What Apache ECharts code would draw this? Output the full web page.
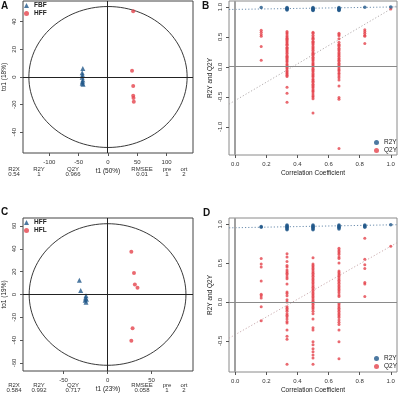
<!DOCTYPE html>
<html>
<head>
<meta charset="utf-8">
<script src="https://cdn.jsdelivr.net/npm/echarts@6/dist/echarts.min.js"></script>
<style>
  html, body { margin: 0; padding: 0; background: #fff; }
  #chart { width: 400px; height: 395px; }
</style>
</head>
<body>
<div id="chart"></div>
<script>
// ---- panel A: OPLS-DA scores FBF vs HFF
const fbfA = [[-43, 6.2], [-44, 3.1], [-43.5, 1.4], [-44, -0.2], [-43, -2.2], [-43.5, -3.4], [-44, -4.6], [-42.5, -5.3]];
const hffA = [[43, 47.5], [41, 4.6], [43, -6.5], [43, -13.5], [43.5, -15.2], [44, -18]];
const ellipseA = [135, 51];
const ticksAx = [-100, -50, 0, 50, 100];
const ticksAy = [-40, -20, 0, 20, 40];
const tableHead = ['R2X', 'R2Y', 'Q2Y', 'RMSEE', 'pre', 'ort'];
const tableA = ['0.54', '1', '0.966', '0.01', '1', '2'];

// ---- panel C: scores HFF vs HFL
const hffC = [[-32, 12.4], [-30.5, 3.5], [-24.5, -1], [-25, -3], [-24, -4.2], [-25.5, -5], [-24.5, -6.7]];
const hflC = [[27, 37.4], [30, 18.8], [31, 8.7], [34, 6], [28.4, -29.6], [27, -40.6]];
const ellipseC = [89, 62];
const ticksCx = [-50, 0, 50];
const ticksCy = [-60, -40, -20, 0, 20, 40, 60];
const tableC = ['0.584', '0.992', '0.717', '0.058', '1', '2'];

// ---- permutation tests (B, D)
const permX = [0.167, 0.333, 0.5, 0.667, 0.833, 1.0];
const ticksPx = [0, 0.2, 0.4, 0.6, 0.8, 1.0];
const ticksBy = [-1, -0.5, 0, 0.5, 1];
const ticksDy = [-0.5, 0, 0.5, 1];

const r2yB = [
  [0.99],
  [0.99, 0.98, 0.97, 0.96, 0.95],
  [0.99, 0.98, 0.97, 0.96, 0.95, 0.94],
  [0.99, 0.98, 0.97, 0.96, 0.95, 0.94],
  [0.995],
  [1.0]
];
const q2yB = [
  [0.61, 0.58, 0.54, 0.51, 0.34, 0.11],
  [0.59, 0.57, 0.55, 0.52, 0.50, 0.48, 0.46, 0.44, 0.42, 0.40, 0.38, 0.36, 0.33, 0.31, 0.29, 0.27, 0.25, 0.23, 0.20, 0.18, 0.16, 0.14, 0.12, 0.10, 0.08, 0.05, 0.03, 0.01, -0.01, -0.03, -0.06, -0.08, -0.10, -0.12, -0.14, -0.16, -0.34, -0.44, -0.59],
  [0.58, 0.56, 0.53, 0.50, 0.48, 0.46, 0.43, 0.41, 0.39, 0.37, 0.34, 0.32, 0.30, 0.28, 0.25, 0.23, 0.21, 0.19, 0.16, 0.14, 0.12, 0.10, 0.07, 0.05, 0.03, 0.01, -0.02, -0.04, -0.06, -0.08, -0.11, -0.13, -0.15, -0.17, -0.20, -0.22, -0.24, -0.26, -0.29, -0.31, -0.33, -0.35, -0.38, -0.40, -0.42, -0.45, -0.48, -0.50, -0.53, -0.77],
  [0.56, 0.54, 0.52, 0.47, 0.41, 0.38, 0.36, 0.34, 0.31, 0.29, 0.27, 0.24, 0.22, 0.20, 0.18, 0.15, 0.13, 0.11, 0.09, 0.06, 0.04, 0.02, 0.00, -0.03, -0.05, -0.07, -0.10, -0.12, -0.15, -0.18, -0.22, -0.32, -0.51, -0.54, -1.36],
  [0.62, 0.59, 0.56, 0.53, 0.51, 0.39],
  [0.966]
];
const fitB = { r2y: [0.96, 1.0], q2y: [-0.56, 0.966] }; // value at x=0 and x=1

const r2yD = [
  [0.97, 0.96],
  [0.99, 0.98, 0.97, 0.96, 0.95, 0.94, 0.93],
  [0.99, 0.98, 0.97, 0.96, 0.95, 0.94, 0.93],
  [0.99, 0.98, 0.97, 0.96, 0.95, 0.94],
  [0.99, 0.98, 0.97, 0.96],
  [0.992]
];
const q2yD = [
  [0.56, 0.49, 0.45, 0.27, 0.10, 0.08, 0.05, -0.06, -0.24],
  [0.62, 0.58, 0.52, 0.47, 0.45, 0.41, 0.39, 0.37, 0.35, 0.32, 0.30, 0.23, 0.13, 0.11, 0.08, 0.03, 0.0, -0.06, -0.08, -0.10, -0.12, -0.15, -0.17, -0.19, -0.22, -0.25, -0.27, -0.36, -0.44, -0.48, -0.80],
  [0.57, 0.49, 0.47, 0.45, 0.43, 0.41, 0.39, 0.37, 0.35, 0.33, 0.31, 0.29, 0.27, 0.25, 0.23, 0.21, 0.19, 0.17, 0.15, 0.13, 0.11, 0.09, 0.07, 0.05, 0.03, 0.01, -0.01, -0.03, -0.05, -0.07, -0.09, -0.12, -0.15, -0.22, -0.33, -0.36, -0.51, -0.55, -0.60, -0.64, -0.68, -0.72, -0.80],
  [0.69, 0.67, 0.65, 0.63, 0.61, 0.58, 0.56, 0.50, 0.40, 0.38, 0.36, 0.34, 0.32, 0.30, 0.28, 0.26, 0.24, 0.22, 0.20, 0.18, 0.16, 0.14, 0.12, 0.09, 0.07, -0.02, -0.04, -0.06, -0.08, -0.10, -0.12, -0.14, -0.16, -0.18, -0.20, -0.23, -0.26, -0.29, -0.36, -0.51, -0.73],
  [0.82, 0.55, 0.48, 0.43, 0.25, 0.23, 0.07],
  [0.717]
];
const fitD = { r2y: [0.955, 0.992], q2y: [-0.42, 0.717] };

const BLUE = '#20578a';
const RED = '#e5434c';
const FONT = 'Liberation Sans';

const grids = [
  { left: 23, top: 1, width: 170, height: 152 },   // A
  { left: 229, top: 1, width: 168, height: 154 },  // B
  { left: 23, top: 218, width: 170, height: 153 }, // C
  { left: 229, top: 218, width: 168, height: 154 } // D
].map((g, i) => Object.assign(g, {
  show: true, borderColor: i % 2 ? '#8a8a8a' : '#444', borderWidth: 1,
  backgroundColor: 'transparent', outerBoundsMode: 'none'
}));

const ranges = [
  { x: [-145, 145], y: [-55, 55] },
  { x: [-0.04, 1.04], y: [-1.47, 1.10] },
  { x: [-96, 97], y: [-67, 67] },
  { x: [-0.04, 1.04], y: [-0.90, 1.08] }
];

function xAxis(gi, ticks, fmt, name) {
  return {
    type: 'value', gridIndex: gi, min: ranges[gi].x[0], max: ranges[gi].x[1], name,
    nameLocation: 'middle', nameGap: 15,
    nameTextStyle: { fontSize: 6.5, color: '#222', fontFamily: FONT },
    axisLine: { show: false, onZero: false }, splitLine: { show: false },
    axisTick: { show: true, length: 3, customValues: ticks, lineStyle: { color: '#555' } },
    axisLabel: { customValues: ticks, formatter: fmt, fontSize: 6, color: '#333', fontFamily: FONT, margin: 6 }
  };
}
function yAxis(gi, ticks, fmt, name) {
  return {
    type: 'value', gridIndex: gi, min: ranges[gi].y[0], max: ranges[gi].y[1], name,
    nameLocation: 'middle', nameGap: 15, nameRotate: 90,
    nameTextStyle: { fontSize: 6.5, color: '#222', fontFamily: FONT },
    axisLine: { show: false, onZero: false }, splitLine: { show: false },
    axisTick: { show: true, length: 3, customValues: ticks, lineStyle: { color: '#555' } },
    axisLabel: { customValues: ticks, formatter: fmt, rotate: 90, fontSize: 6, color: '#333', fontFamily: FONT, margin: 6 }
  };
}
const intFmt = v => String(v);
const decFmt = v => v.toFixed(1);

function ellipseSeries(idx, axes) {
  return {
    type: 'custom', xAxisIndex: idx, yAxisIndex: idx, silent: true, z: 1,
    data: [[0, 0]],
    renderItem: (params, api) => {
      const pts = [];
      for (let i = 0; i <= 120; i++) {
        const t = i / 120 * Math.PI * 2;
        pts.push(api.coord([axes[0] * Math.cos(t), axes[1] * Math.sin(t)]));
      }
      return { type: 'polyline', shape: { points: pts }, style: { stroke: '#222', fill: null, lineWidth: 0.9 } };
    }
  };
}
function scatter(idx, name, data, color, symbol, size) {
  return {
    type: 'scatter', name, xAxisIndex: idx, yAxisIndex: idx, data,
    symbol, symbolSize: size, itemStyle: { color }, z: 3, animation: false
  };
}
function permData(cols) {
  const out = [];
  cols.forEach((col, i) => col.forEach(v => out.push([permX[i], v])));
  return out;
}
function fitLine(idx, fit, color) {
  const x0 = ranges[idx].x[0], x1 = ranges[idx].x[1];
  const f = x => fit[0] + (fit[1] - fit[0]) * x;
  return {
    type: 'line', xAxisIndex: idx, yAxisIndex: idx, silent: true, symbol: 'none', z: 2,
    data: [[x0, f(x0)], [x1, f(x1)]],
    lineStyle: { color, width: 0.9, type: [1.2, 2] }, animation: false
  };
}

const legendText = { fontSize: 6.5, color: '#222', fontFamily: FONT };
const legends = [
  { left: 24, top: 2, data: [{ name: 'A-FBF', icon: 'triangle' }, { name: 'A-HFF', icon: 'circle' }], textStyle: Object.assign({ fontWeight: 'bold' }, legendText) },
  { left: 24, top: 219, data: [{ name: 'C-HFF', icon: 'triangle' }, { name: 'C-HFL', icon: 'circle' }], textStyle: Object.assign({ fontWeight: 'bold' }, legendText) },
  { left: 374, top: 139, data: [{ name: 'B-R2Y', icon: 'circle' }, { name: 'B-Q2Y', icon: 'circle' }], textStyle: legendText },
  { left: 374, top: 355, data: [{ name: 'D-R2Y', icon: 'circle' }, { name: 'D-Q2Y', icon: 'circle' }], textStyle: legendText }
].map(l => Object.assign(l, {
  orient: 'vertical', itemWidth: 5, itemHeight: 5, itemGap: 1, padding: 0,
  formatter: n => n.slice(2), selectedMode: false
}));

// summary tables under A and C
const colX = [14, 39, 73, 142, 167, 184];
function tableTexts(head, vals, y) {
  const els = [];
  head.forEach((h, i) => {
    els.push({ type: 'text', x: colX[i], y, style: { text: h, fontSize: 6, fill: '#333', fontFamily: FONT, textAlign: 'center', textVerticalAlign: 'middle' } });
    els.push({ type: 'text', x: colX[i], y: y + 5, style: { text: vals[i], fontSize: 6, fill: '#333', fontFamily: FONT, textAlign: 'center', textVerticalAlign: 'middle' } });
  });
  return els;
}
const letters = [['A', 1, 1], ['B', 202, 1], ['C', 1, 207], ['D', 203, 208]].map(([t, x, y]) => ({
  type: 'text', x, y, style: { text: t, fontSize: 10, fontWeight: 'bold', fill: '#111', fontFamily: FONT }
}));

const chart = echarts.init(document.getElementById('chart'), null, { renderer: 'canvas' });
chart.setOption({
  animation: false,
  grid: grids,
  legend: legends,
  xAxis: [
    xAxis(0, ticksAx, intFmt, 't1 (50%)'),
    xAxis(1, ticksPx, decFmt, 'Correlation Coefficient'),
    xAxis(2, ticksCx, intFmt, 't1 (23%)'),
    xAxis(3, ticksPx, decFmt, 'Correlation Coefficient')
  ],
  yAxis: [
    yAxis(0, ticksAy, intFmt, 'to1 (18%)'),
    yAxis(1, ticksBy, decFmt, 'R2Y and Q2Y'),
    yAxis(2, ticksCy, intFmt, 'to1 (19%)'),
    yAxis(3, ticksDy, decFmt, 'R2Y and Q2Y')
  ],
  series: [
    ellipseSeries(0, ellipseA),
    scatter(0, 'A-FBF', fbfA, BLUE, 'triangle', 5),
    scatter(0, 'A-HFF', hffA, RED, 'circle', 4),

    fitLine(1, fitB.r2y, '#5d82a6'),
    fitLine(1, fitB.q2y, '#aaa3a4'),
    scatter(1, 'B-Q2Y', permData(q2yB), RED, 'circle', 3),
    scatter(1, 'B-R2Y', permData(r2yB), BLUE, 'circle', 3.5),

    ellipseSeries(2, ellipseC),
    scatter(2, 'C-HFF', hffC, BLUE, 'triangle', 5),
    scatter(2, 'C-HFL', hflC, RED, 'circle', 4),

    fitLine(3, fitD.r2y, '#5d82a6'),
    fitLine(3, fitD.q2y, '#c4a3a6'),
    scatter(3, 'D-Q2Y', permData(q2yD), RED, 'circle', 3),
    scatter(3, 'D-R2Y', permData(r2yD), BLUE, 'circle', 3.5)
  ]
});

// zero reference lines (x = 0, y = 0): positions come from the chart's own axis scales
const zeroStyle = [
  { v: '#222', h: '#222', vw: 1, hw: 1 },
  { v: '#a0a0a0', h: '#8a8a8a', vw: 2, hw: 1 },
  { v: '#222', h: '#222', vw: 1, hw: 1 },
  { v: '#a0a0a0', h: '#8a8a8a', vw: 2, hw: 1 }
];
const zeroEls = [];
ranges.forEach((r, i) => {
  const s = zeroStyle[i];
  const top = chart.convertToPixel({ gridIndex: i }, [0, r.y[1]]);
  const bot = chart.convertToPixel({ gridIndex: i }, [0, r.y[0]]);
  const lft = chart.convertToPixel({ gridIndex: i }, [r.x[0], 0]);
  const rgt = chart.convertToPixel({ gridIndex: i }, [r.x[1], 0]);
  zeroEls.push({ type: 'rect', z: 100, silent: true,
    shape: { x: Math.round(top[0] - s.vw / 2), y: top[1], width: s.vw, height: bot[1] - top[1] },
    style: { fill: s.v } });
  zeroEls.push({ type: 'rect', z: 100, silent: true,
    shape: { x: lft[0], y: Math.round(lft[1] - s.hw / 2), width: rgt[0] - lft[0], height: s.hw },
    style: { fill: s.h } });
});

chart.setOption({
  graphic: letters.concat(tableTexts(tableHead, tableA, 169), tableTexts(tableHead, tableC, 385), zeroEls)
});
</script>
</body>
</html>
